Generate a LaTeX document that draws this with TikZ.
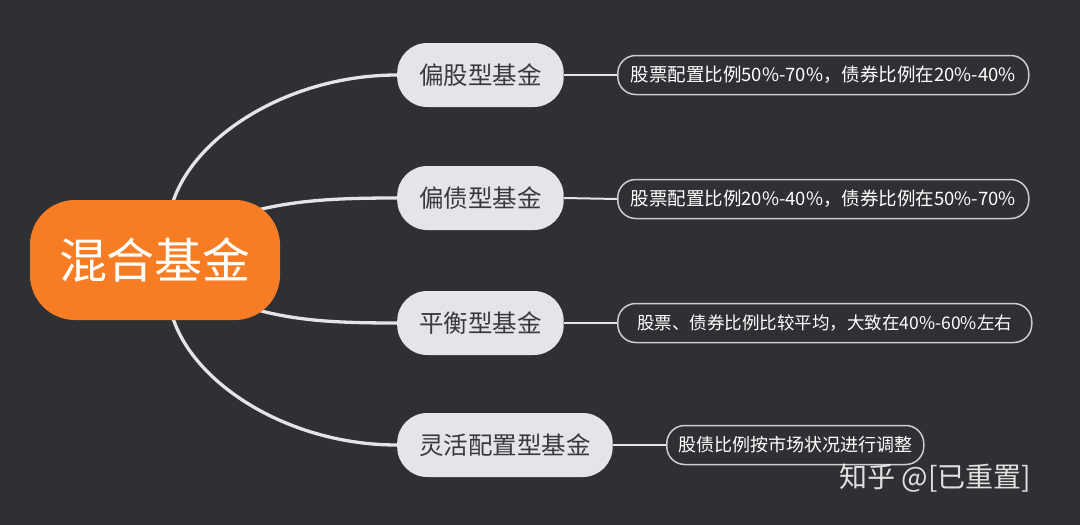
\documentclass[tikz,border=0pt]{standalone}
\usepackage{fontspec}
\setmainfont{Noto Sans CJK SC}
\usetikzlibrary{calc}
\definecolor{bgc}{RGB}{47,48,52}
\definecolor{orangec}{RGB}{246,125,36}
\definecolor{grayc}{RGB}{228,229,233}
\definecolor{linec}{RGB}{228,228,232}
\definecolor{boxline}{RGB}{205,205,210}
\definecolor{darktext}{RGB}{58,58,62}
\pgfdeclarelayer{bglayer}
\pgfdeclarelayer{edgelayer}
\pgfsetlayers{bglayer,edgelayer,main}
\begin{document}
\begin{tikzpicture}[x=1pt,y=-1pt,
  rootbox/.style={fill=orangec, text=white, rounded corners=45pt, minimum width=250pt, minimum height=120pt, inner sep=0pt, font=\fontsize{48}{56}\selectfont},
  catbox/.style={fill=grayc, text=darktext, rounded corners=30pt, minimum height=64pt, inner xsep=22pt, inner ysep=0pt, anchor=west, font=\fontsize{24.5}{28}\selectfont},
  descbox/.style={draw=boxline, line width=1.5pt, text=white, rounded corners=18pt, minimum height=39pt, inner sep=0pt, anchor=west, font=\fontsize{18.5}{21}\selectfont},
  branch/.style={draw=linec, line width=3.3pt},
  leaf/.style={draw=linec, line width=2pt},
  wmark/.style={text=white, opacity=0.85, anchor=west, font=\fontsize{28}{32}\selectfont}]
\useasboundingbox (0,0) rectangle (1080,525);
\begin{pgfonlayer}{bglayer}
  \fill[bgc] (0,0) rectangle (1080,525);
\end{pgfonlayer}

\node[rootbox] (root) at (155,260) {混合基金};

\node[catbox] (c1) at (397,75) {偏股型基金};
\node[catbox] (c2) at (397,198) {偏债型基金};
\node[catbox] (c3) at (397,323) {平衡型基金};
\node[catbox] (c4) at (397,445) {灵活配置型基金};

\node[descbox, minimum width=411pt] (d1) at (617,75) {股票配置比例50\%-70\%，债券比例在20\%-40\%};
\node[descbox, minimum width=411pt] (d2) at (617,199) {股票配置比例20\%-40\%，债券比例在50\%-70\%};
\node[descbox, minimum width=414pt, font=\fontsize{17.5}{21}\selectfont] (d3) at (617,323) {股票、债券比例比较平均，大致在40\%-60\%左右};
\node[descbox, minimum width=257pt, font=\fontsize{18}{21}\selectfont] (d4) at (666,445) {股债比例按市场状况进行调整};

\node[wmark] (wm) at (836,478) {知乎 @[已重置]};

\begin{pgfonlayer}{edgelayer}
  \draw[branch] ($(root.north)+(18,2)$) .. controls ($(root.north)+(40,-65)$) and ($(c1.west)+(-107,0)$) .. (c1.west);
  \draw[branch] ($(root.north east)+(-22,10)$) .. controls ($(root.north east)+(20,0)$) and ($(c2.west)+(-57,0)$) .. (c2.west);
  \draw[branch] ($(root.south east)+(-22,-10)$) .. controls ($(root.south east)+(20,1)$) and ($(c3.west)+(-57,0)$) .. (c3.west);
  \draw[branch] ($(root.south)+(18,-2)$) .. controls ($(root.south)+(40,65)$) and ($(c4.west)+(-107,0)$) .. (c4.west);
  \draw[leaf] (c1.east) -- (d1.west);
  \draw[leaf] (c2.east) -- (d2.west);
  \draw[leaf] (c3.east) -- (d3.west);
  \draw[leaf] (c4.east) -- (d4.west);
\end{pgfonlayer}
\end{tikzpicture}
\end{document}
